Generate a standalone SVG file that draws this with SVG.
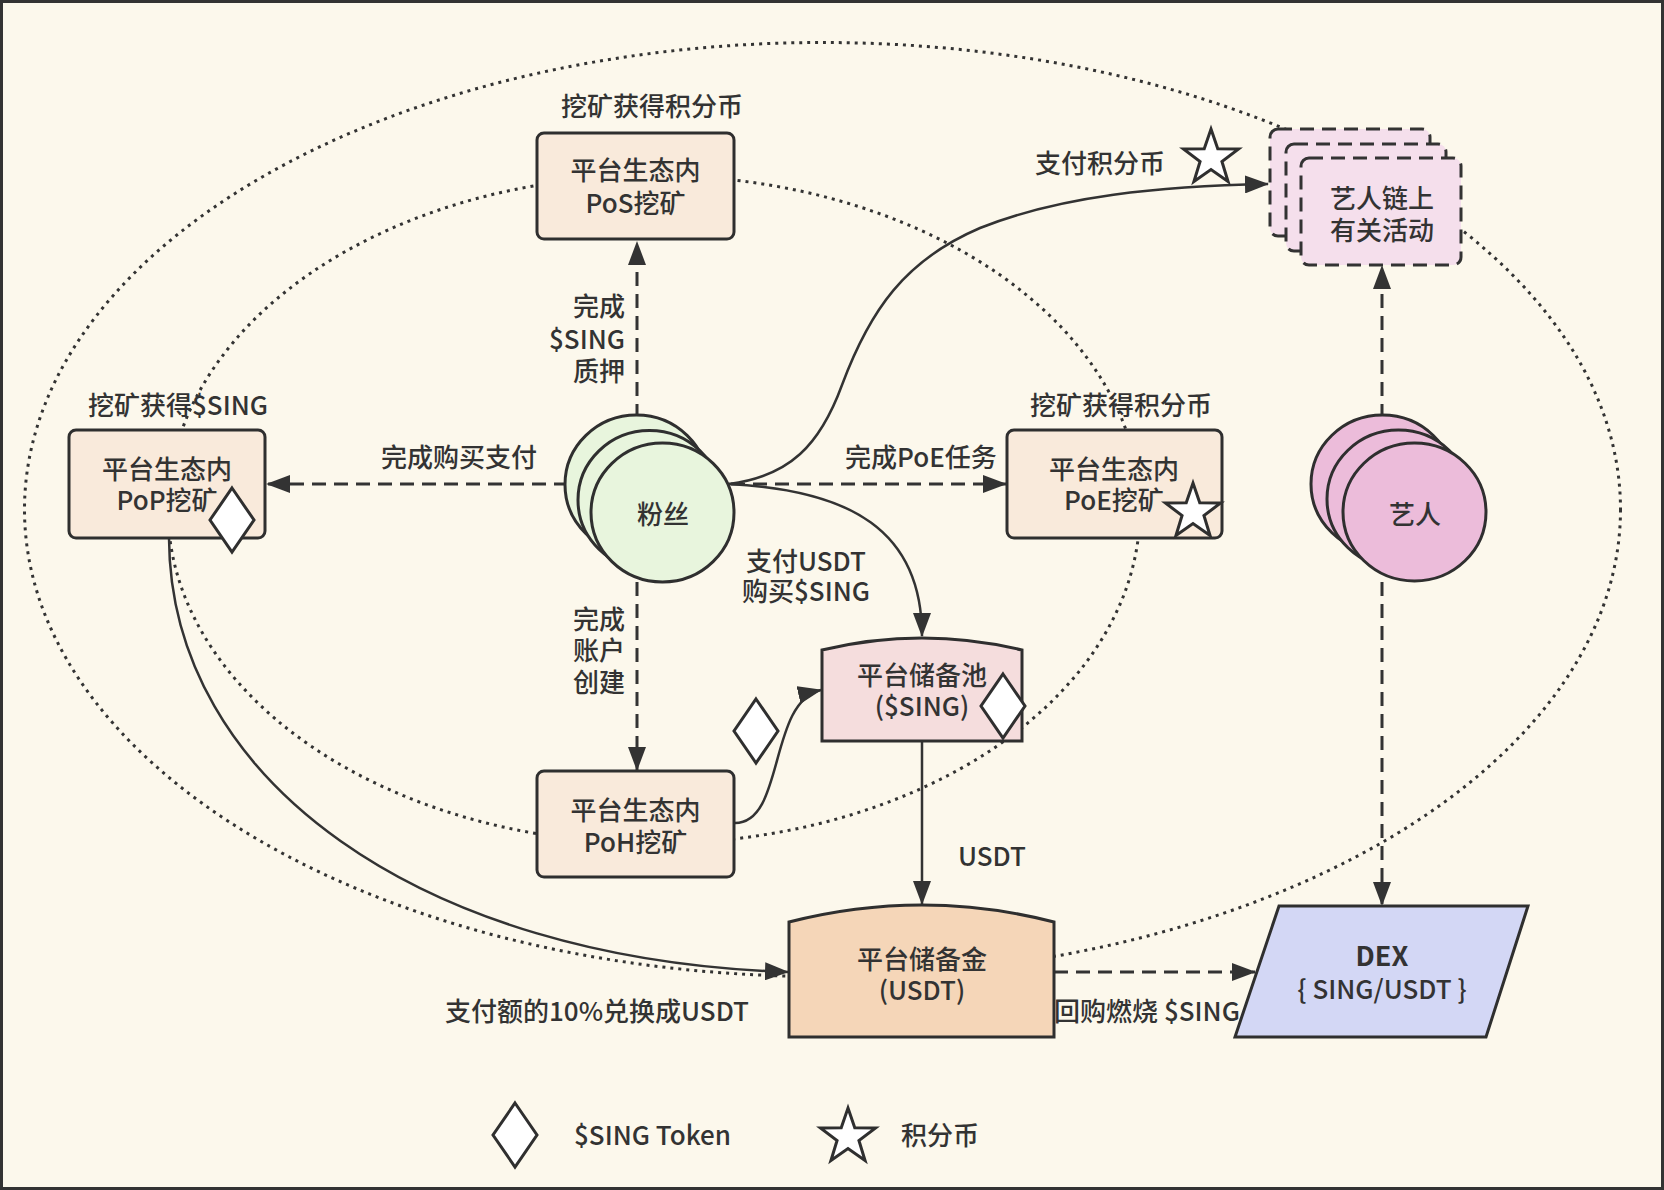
<svg xmlns="http://www.w3.org/2000/svg" width="1664" height="1190" viewBox="0 0 1664 1190">
<style>
  text { font-family: "Noto Sans CJK SC", "Noto Sans", sans-serif; font-size: 26px; font-weight: 500; fill: #333; }
  .c { text-anchor: middle; dominant-baseline: central; }
  .e { text-anchor: end; dominant-baseline: central; }
  .s { text-anchor: start; dominant-baseline: central; }
  .box { fill: #F9EADB; stroke: #2f2f2f; stroke-width: 3; }
  .dot { fill: none; stroke: #333; stroke-width: 3; stroke-dasharray: 3 5; }
  .dash { fill: none; stroke: #333; stroke-width: 3; stroke-dasharray: 14 8; }
  .solid { fill: none; stroke: #333; stroke-width: 2.5; }
  .fan { fill: #E8F5DD; stroke: #2f2f2f; stroke-width: 3; }
  .art { fill: #ECBCDA; stroke: #2f2f2f; stroke-width: 3; }
  .act { fill: #F5DFEC; stroke: #333; stroke-width: 3; stroke-dasharray: 14 8; }
  .tok { fill: #fff; stroke: #2f2f2f; stroke-width: 3; stroke-linejoin: miter; }
</style>
<defs>
  <marker id="arr" markerUnits="userSpaceOnUse" markerWidth="24" markerHeight="18" refX="23" refY="9" orient="auto">
    <path d="M0,0 L24,9 L0,18 Z" fill="#333"/>
  </marker>
  <path id="star" d="M0,-29 L6.76,-9.3 L27.58,-8.96 L10.94,3.55 L17.05,23.46 L0,11.5 L-17.05,23.46 L-10.94,3.55 L-27.58,-8.96 L-6.76,-9.3 Z"/>
  <path id="diamond" d="M0,-32 L22,0 L0,32 L-22,0 Z"/>
</defs>

<rect x="1.5" y="1.5" width="1661" height="1187" fill="#FCF8EC" stroke="#333" stroke-width="3"/>

<g id="orbits">
  <ellipse class="dot" cx="822.5" cy="509.5" rx="798" ry="467"/>
  <ellipse class="dot" cx="654" cy="509.5" rx="486" ry="334"/>
</g>

<g id="connectors">
  <path class="dash" d="M637,440 L637,242" marker-end="url(#arr)"/>
  <path class="dash" d="M590,484 L267,484" marker-end="url(#arr)"/>
  <path class="dash" d="M731,484 L1006,484" marker-end="url(#arr)"/>
  <path class="dash" d="M637,560 L637,770" marker-end="url(#arr)"/>
  <path class="dash" d="M1382,440 L1382,266" marker-end="url(#arr)"/>
  <path class="dash" d="M1382,560 L1382,905" marker-end="url(#arr)"/>
  <path class="dash" d="M1054,972 L1255,972" marker-end="url(#arr)"/>
  <path class="solid" d="M729,484 C790,476 820,445 842,385 C870,310 905,260 980,228 C1060,196 1160,186 1268,184" marker-end="url(#arr)"/>
  <path class="solid" d="M729,484 C850,490 922,530 922,636" marker-end="url(#arr)"/>
  <path class="solid" d="M735,823 C785,823 768,702 821,690" marker-end="url(#arr)"/>
  <path class="solid" d="M922,741 L922,904" marker-end="url(#arr)"/>
  <path class="solid" d="M169,538 C170,780 420,960 788,972" marker-end="url(#arr)"/>

  <text class="e" x="625" y="304">完成</text>
  <text class="e" x="625" y="337">$SING</text>
  <text class="e" x="625" y="369">质押</text>
  <text class="c" x="459" y="455">完成购买支付</text>
  <text class="c" x="921" y="455">完成PoE任务</text>
  <text class="e" x="625" y="617">完成</text>
  <text class="e" x="625" y="648">账户</text>
  <text class="e" x="625" y="680">创建</text>
  <text class="c" x="806" y="559">支付USDT</text>
  <text class="c" x="806" y="589">购买$SING</text>
  <text class="c" x="1100" y="161">支付积分币</text>
  <use href="#star" class="tok" x="1211" y="158"/>
  <text class="c" x="992" y="854">USDT</text>
  <text class="c" x="597" y="1009">支付额的10%兑换成USDT</text>
  <text class="c" x="1147" y="1009">回购燃烧 $SING</text>
  <use href="#diamond" class="tok" x="756" y="731"/>
</g>

<g id="node-pos">
  <text class="c" x="652" y="104">挖矿获得积分币</text>
  <rect class="box" x="537" y="133" width="197" height="106" rx="7"/>
  <text class="c" x="635.5" y="168">平台生态内</text>
  <text class="c" x="635.5" y="201">PoS挖矿</text>
</g>

<g id="node-pop">
  <text class="c" x="178" y="403">挖矿获得$SING</text>
  <rect class="box" x="69" y="430" width="196" height="108" rx="7"/>
  <text class="c" x="167" y="467">平台生态内</text>
  <text class="c" x="167" y="498">PoP挖矿</text>
  <use href="#diamond" class="tok" x="232" y="520"/>
</g>

<g id="node-poe">
  <text class="c" x="1121" y="403">挖矿获得积分币</text>
  <rect class="box" x="1007" y="430" width="215" height="108" rx="7"/>
  <text class="c" x="1114" y="467">平台生态内</text>
  <text class="c" x="1114" y="498">PoE挖矿</text>
  <use href="#star" class="tok" x="1193" y="512"/>
</g>

<g id="node-poh">
  <rect class="box" x="537" y="771" width="197" height="106" rx="7"/>
  <text class="c" x="635.5" y="808">平台生态内</text>
  <text class="c" x="635.5" y="840">PoH挖矿</text>
</g>

<g id="node-fans">
  <ellipse class="fan" cx="636.5" cy="484.5" rx="71.5" ry="69.5"/>
  <ellipse class="fan" cx="649.5" cy="500" rx="71.5" ry="69.5"/>
  <ellipse class="fan" cx="662.5" cy="512.5" rx="71.5" ry="69.5"/>
  <text class="c" x="663" y="512">粉丝</text>
</g>

<g id="node-artist">
  <ellipse class="art" cx="1382.5" cy="484" rx="71.5" ry="69"/>
  <ellipse class="art" cx="1398.5" cy="499" rx="71.5" ry="69"/>
  <ellipse class="art" cx="1414.5" cy="512" rx="71.5" ry="69"/>
  <text class="c" x="1415" y="512">艺人</text>
</g>

<g id="node-activity">
  <rect class="act" x="1270" y="129" width="160" height="107" rx="8"/>
  <rect class="act" x="1286" y="144" width="160" height="107" rx="8"/>
  <rect class="act" x="1301" y="158" width="160" height="107" rx="8"/>
  <text class="c" x="1382" y="196">艺人链上</text>
  <text class="c" x="1382" y="228">有关活动</text>
</g>

<g id="node-pool">
  <path d="M822,650 Q922,626 1022,650 L1022,741 L822,741 Z" fill="#F5DDDD" stroke="#2f2f2f" stroke-width="3"/>
  <text class="c" x="922" y="673">平台储备池</text>
  <text class="c" x="922" y="704">($SING)</text>
  <use href="#diamond" class="tok" x="1003" y="706"/>
</g>

<g id="node-reserve">
  <path d="M789,922 Q922,888 1054,922 L1054,1037 L789,1037 Z" fill="#F5D6B8" stroke="#2f2f2f" stroke-width="3"/>
  <text class="c" x="922" y="957">平台储备金</text>
  <text class="c" x="922" y="988">(USDT)</text>
</g>

<g id="node-dex">
  <path d="M1279,906 L1528,906 L1486,1037 L1235,1037 Z" fill="#D3D7F5" stroke="#2f2f2f" stroke-width="3"/>
  <text class="c" x="1382" y="954" style="font-weight:bold;font-size:27px">DEX</text>
  <text class="c" x="1382" y="987">{ SING/USDT }</text>
</g>

<g id="legend">
  <use href="#diamond" class="tok" x="515" y="1135"/>
  <text class="s" x="574" y="1133">$SING Token</text>
  <use href="#star" class="tok" x="848" y="1137"/>
  <text class="s" x="901" y="1133">积分币</text>
</g>
</svg>
